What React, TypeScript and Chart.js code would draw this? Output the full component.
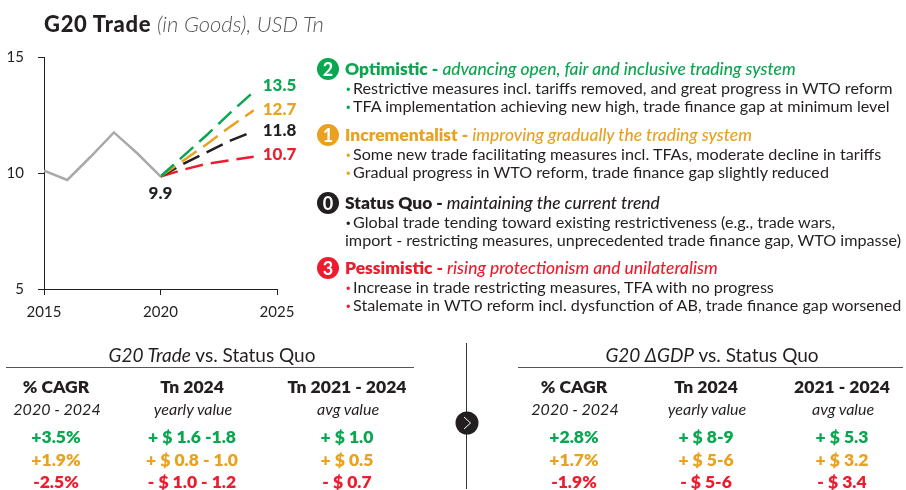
import React, { useEffect, useRef } from "react";
import { Chart, registerables } from "chart.js";

Chart.register(...registerables);

const historyYears = [2015, 2016, 2017, 2018, 2019, 2020];
const historyValues = [10.1, 9.7, 10.7, 11.75, 10.85, 9.85];
const forecastYears = [2020, 2021, 2022, 2023, 2024];
const optimisticValues = [9.85, 10.75, 11.65, 12.6, 13.5];
const incrementalValues = [9.85, 10.55, 11.25, 12.0, 12.7];
const statusQuoValues = [9.85, 10.4, 10.9, 11.4, 11.8];
const pessimisticValues = [9.85, 10.15, 10.4, 10.55, 10.7];

const GREEN = "#0aa650";
const ORANGE = "#e9a21f";
const BLACK = "#231f20";
const RED = "#ed1c2e";
const GRAY = "#a9aaa8";
const FONT = "Lato, sans-serif";

const scenarios = [
  { n: "2", color: GREEN, name: "Optimistic - ", desc: "advancing open, fair and inclusive trading system", y: 69,
    lines: ["Restrictive measures incl. tariffs removed, and great progress in WTO reform", "TFA implementation achieving new high, trade finance gap at minimum level"] },
  { n: "1", color: ORANGE, name: "Incrementalist - ", desc: "improving gradually the trading system", y: 135,
    lines: ["Some new trade facilitating measures incl. TFAs, moderate decline in tariffs", "Gradual progress in WTO reform, trade finance gap slightly reduced"] },
  { n: "0", color: BLACK, name: "Status Quo - ", desc: "maintaining the current trend", y: 203,
    lines: ["Global trade tending toward existing restrictiveness (e.g., trade wars,"], extra: "import - restricting measures, unprecedented trade finance gap, WTO impasse)" },
  { n: "3", color: RED, name: "Pessimistic - ", desc: "rising protectionism and unilateralism", y: 268,
    lines: ["Increase in trade restricting measures, TFA with no progress", "Stalemate in WTO reform incl. dysfunction of AB, trade finance gap worsened"] },
];

const rowColors = [GREEN, ORANGE, RED];
const tradeColumns = [
  { x: 56, head: "% CAGR", sub: "2020 - 2024", rows: ["+3.5%", "+1.9%", "-2.5%"] },
  { x: 192, head: "Tn 2024", sub: "yearly value", rows: ["+ $ 1.6 -1.8", "+ $ 0.8 - 1.0", "- $ 1.0 - 1.2"] },
  { x: 347, head: "Tn 2021 - 2024", sub: "avg value", rows: ["+ $ 1.0", "+ $ 0.5", "- $ 0.7"] },
];
const gdpColumns = [
  { x: 574, head: "% CAGR", sub: "2020 - 2024", rows: ["+2.8%", "+1.7%", "-1.9%"] },
  { x: 706, head: "Tn 2024", sub: "yearly value", rows: ["+ $ 8-9", "+ $ 5-6", "- $ 5-6"] },
  { x: 842, head: "2021 - 2024", sub: "avg value", rows: ["+ $ 5.3", "+ $ 3.2", "- $ 3.4"] },
];

function pairs(xs: number[], ys: number[]) {
  return xs.map((x, i) => ({ x, y: ys[i] }));
}

const endLabels = [
  { value: 13.5, text: "13.5", color: GREEN, year: 2024, dx: 9, dy: -6, align: "left" },
  { value: 12.7, text: "12.7", color: ORANGE, year: 2024, dx: 9, dy: -1, align: "left" },
  { value: 11.8, text: "11.8", color: BLACK, year: 2024, dx: 9, dy: -1, align: "left" },
  { value: 10.7, text: "10.7", color: RED, year: 2024, dx: 9, dy: -2, align: "left" },
  { value: 9.85, text: "9.9", color: BLACK, year: 2020, dx: 0, dy: 17, align: "center" },
];

const labelPlugin = {
  id: "endLabels",
  afterDatasetsDraw(chart: any) {
    const { ctx, scales } = chart;
    ctx.save();
    ctx.font = `900 17px ${FONT}`;
    ctx.textBaseline = "middle";
    for (const l of endLabels) {
      ctx.fillStyle = l.color;
      ctx.textAlign = l.align;
      ctx.fillText(l.text, scales.x.getPixelForValue(l.year) + l.dx, scales.y.getPixelForValue(l.value) + l.dy);
    }
    ctx.restore();
  },
};

function T({ x, y, children, size = 16.15, color = BLACK, weight = 400, italic = false, center = false, spacing = 0 }: any) {
  return (
    <div
      style={{
        position: "absolute",
        left: x,
        top: y,
        transform: center ? "translate(-50%,-50%)" : "translateY(-50%)",
        fontFamily: FONT,
        fontSize: size,
        color,
        fontWeight: weight,
        fontStyle: italic ? "italic" : "normal",
        whiteSpace: "nowrap",
        lineHeight: 1,
        letterSpacing: spacing,
      }}
    >
      {children}
    </div>
  );
}

function Rule({ x, y, w, h, color = "#555" }: any) {
  return <div style={{ position: "absolute", left: x, top: y, width: w, height: h, background: color }} />;
}

function Badge({ y, color, n }: any) {
  return (
    <div
      style={{
        position: "absolute",
        left: 317,
        top: y - 11,
        width: 22,
        height: 22,
        borderRadius: "50%",
        background: color,
        color: "#fff",
        display: "flex",
        alignItems: "center",
        justifyContent: "center",
        fontFamily: FONT,
        fontWeight: 700,
        fontSize: 18,
      }}
    >
      {n}
    </div>
  );
}

function Columns({ cols }: any) {
  const ys = [437, 460, 482];
  return (
    <>
      {cols.map((c: any) => (
        <React.Fragment key={c.x}>
          <T x={c.x} y={387} center size={17.5} weight={800}>{c.head}</T>
          <T x={c.x + 1} y={409} center size={16} italic weight={400}>{c.sub}</T>
          {c.rows.map((r: string, i: number) => (
            <T key={i} x={c.x} y={ys[i]} center size={17.5} weight={800} color={rowColors[i]}>{r}</T>
          ))}
        </React.Fragment>
      ))}
    </>
  );
}

export default function App() {
  const ref = useRef<HTMLCanvasElement>(null);
  useEffect(() => {
    const dashed = (label: string, data: number[], color: string) => ({
      label,
      data: pairs(forecastYears, data),
      borderColor: color,
      borderWidth: 2.5,
      borderDash: [18, 8],
      pointRadius: 0,
      tension: 0,
      fill: false,
    });
    const chart = new Chart(ref.current!, {
      type: "line",
      data: {
        datasets: [
          { label: "History", data: pairs(historyYears, historyValues), borderColor: GRAY, borderWidth: 2.5, pointRadius: 0, tension: 0, fill: false },
          dashed("Optimistic", optimisticValues, GREEN),
          dashed("Incrementalist", incrementalValues, ORANGE),
          dashed("Status Quo", statusQuoValues, BLACK),
          dashed("Pessimistic", pessimisticValues, RED),
        ],
      },
      options: {
        animation: false,
        responsive: false,
        events: [],
        layout: { padding: { left: 0, top: 57, right: 629, bottom: 0 }, autoPadding: false },
        plugins: { legend: { display: false }, tooltip: { enabled: false }, title: { display: false } },
        scales: {
          x: {
            type: "linear",
            min: 2015,
            max: 2025,
            grid: { drawOnChartArea: false, drawTicks: true, tickLength: 6, color: BLACK, lineWidth: 1 },
            border: { color: BLACK, width: 1 },
            ticks: { stepSize: 5, maxRotation: 0, padding: 8, color: BLACK, font: { family: FONT, size: 15 }, callback: (v: any) => String(v) },
            afterFit: (s: any) => { s.height = 201; },
          },
          y: {
            min: 5,
            max: 15,
            grid: { drawOnChartArea: false, drawTicks: true, tickLength: 6, color: BLACK, lineWidth: 1 },
            border: { color: BLACK, width: 1 },
            ticks: { stepSize: 5, padding: 14, color: BLACK, font: { family: FONT, size: 15 } },
            afterFit: (s: any) => { s.width = 44; },
          },
        },
      },
      plugins: [labelPlugin],
    } as any);
    return () => chart.destroy();
  }, []);

  return (
    <div style={{ position: "absolute", left: 0, top: 0, width: 906, height: 490, overflow: "hidden", background: "#fff" }}>
      <canvas ref={ref} width={906} height={490} style={{ position: "absolute", left: 0, top: 0, display: "block" }} />
      <T x={44} y={24} size={22}>
        <span style={{ fontWeight: 900, letterSpacing: 0.7 }}>G20 Trade</span>{" "}
        <span style={{ fontWeight: 300, fontStyle: "italic", color: "#555" }}>(in Goods), USD Tn</span>
      </T>

      {scenarios.map((s) => (
        <React.Fragment key={s.n}>
          <Badge y={s.y} color={s.color} n={s.n} />
          <T x={345} y={s.y} size={17.4} color={s.color} weight={800}>
            {s.name}
            <span style={{ fontWeight: 500, fontStyle: "italic" }}>{s.desc}</span>
          </T>
          {s.lines.map((l, i) => (
            <React.Fragment key={i}>
              <T x={346} y={s.y + 18.5 + i * 18.5} color={s.color} weight={900}>·</T>
              <T x={353} y={s.y + 18.5 + i * 18.5}>{l}</T>
            </React.Fragment>
          ))}
          {s.extra ? <T x={345} y={s.y + 37}>{s.extra}</T> : null}
        </React.Fragment>
      ))}

      <T x={212} y={354} center size={19}><i>G20 Trade</i> vs. Status Quo</T>
      <Rule x={6} y={367} w={408} h={1} />
      <T x={712} y={354} center size={19}><i>G20 ΔGDP</i> vs. Status Quo</T>
      <Rule x={518} y={367} w={385} h={1} />
      <Columns cols={tradeColumns} />
      <Columns cols={gdpColumns} />
      <Rule x={466} y={343} w={1} h={146} color="#333" />
      <svg width={24} height={24} style={{ position: "absolute", left: 454.5, top: 411 }}>
        <circle cx={12} cy={12} r={11.5} fill={BLACK} />
        <path d="M9 6 L15.5 12 L9 18" stroke="#fff" strokeWidth={1} fill="none" />
      </svg>
    </div>
  );
}
